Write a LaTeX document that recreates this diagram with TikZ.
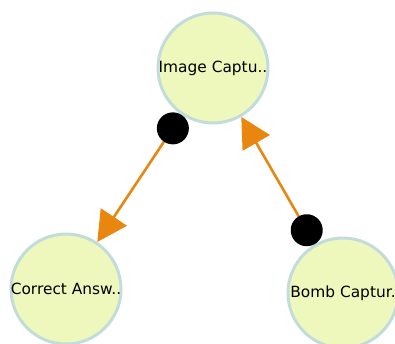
\documentclass[tikz,border=0pt]{standalone}
\usepackage{fontspec}
\setmainfont{DejaVu Sans}
\usetikzlibrary{arrows.meta,positioning}
\definecolor{statefill}{HTML}{EEF8BC}
\definecolor{stateedge}{HTML}{C2DCDC}
\definecolor{linkorange}{HTML}{E8860F}
\tikzset{
  state/.style={circle,draw=stateedge,line width=3pt,fill=statefill,minimum size=110pt,inner sep=0pt,font=\fontsize{15.4}{18}\selectfont},
  link/.style={draw=linkorange,line width=2.6pt,{Circle[black,length=32pt]}-{Triangle[length=30pt,width=31pt]}}
}
\begin{document}
\begin{tikzpicture}[x=1pt,y=-1pt]
\useasboundingbox (0,0) rectangle (395,343);
\node[state] (img) at (213,68) {\makebox[0pt]{Image Captu..}};
\node[state] (ans) at (66,289) {\makebox[0pt]{Correct Answ..}};
\node[state] (bomb) at (343,293) {\makebox[0pt]{Bomb Captur.}};
\draw[link] (img) -- (ans); \draw[link] (bomb) -- (img);
\end{tikzpicture}
\end{document}
